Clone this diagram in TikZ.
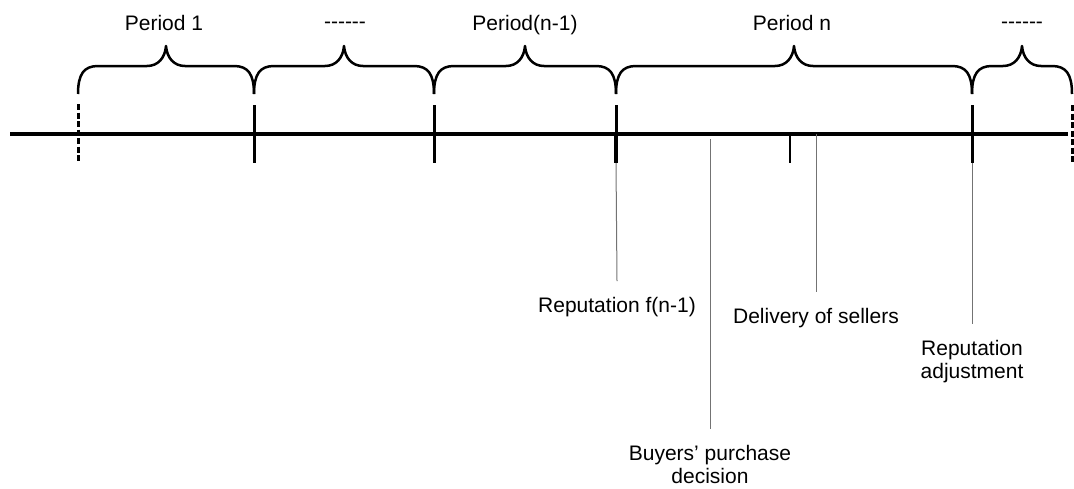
\documentclass[tikz,border=0pt]{standalone}
\usepackage{fontspec}
\setmainfont{Liberation Sans}
\begin{document}
\begin{tikzpicture}[x=1pt,y=-1pt,
  every node/.style={font=\fontsize{21}{23}\selectfont, inner sep=0pt},
  lab/.style={align=center, anchor=north, outer ysep=16pt},
  axis/.style={line width=3.6pt},
  tickmark/.style={line width=3pt},
  dtick/.style={line width=3pt, dash pattern=on 6pt off 2.5pt},
  bracepath/.style={line width=2.5pt, line join=round},
  guide/.style={line width=1pt, draw=black!55},
  minor/.style={line width=1.6pt}]
\useasboundingbox (0,0) rectangle (1074,488);
% axis
\coordinate (axL) at (10,134);
\coordinate (axR) at (1068,134);
\draw[axis] (axL) -- (axR);
% ticks
\coordinate (d1t) at (78,104);  \coordinate (d1b) at (78,163);
\coordinate (t1t) at (254,105); \coordinate (t1b) at (254,163);
\coordinate (t2t) at (434,105); \coordinate (t2b) at (434,163);
\coordinate (t3t) at (616,105); \coordinate (t3b) at (616,163);
\coordinate (t4t) at (972,105); \coordinate (t4b) at (972,163);
\coordinate (d2t) at (1072,105); \coordinate (d2b) at (1072,163);
\draw[dtick] (d1t) -- (d1b);
\draw[dtick] (d2t) -- (d2b);
\draw[tickmark] (t1t) -- (t1b);
\draw[tickmark] (t2t) -- (t2b);
\draw[tickmark] (t3t) -- (t3b);
\draw[line width=4pt] (616,134) -- (t3b);
\draw[tickmark] (t4t) -- (t4b);
% small tick
\coordinate (s1t) at (790,134); \coordinate (s1b) at (790,163);
\draw[minor] (s1t) -- (s1b);
% braces
\foreach \a/\b in {78/254, 254/434, 434/616, 616/972, 972/1072}{
  \pgfmathsetmacro\m{(\a+\b)/2}
  \draw[bracepath] (\a,94) .. controls (\a,74) and (\a+6,66) .. (\a+20,66)
    -- (\m-19,66) .. controls (\m-8,66) and (\m-1,58) .. (\m,46)
    .. controls (\m+1,58) and (\m+8,66) .. (\m+19,66)
    -- (\b-20,66) .. controls (\b-6,66) and (\b,74) .. (\b,94);
}
% period labels
\node[anchor=base] (p1) at (164,30) {Period 1};
\node[anchor=base] (dots1) at (345,28) {{-}{-}{-}{-}{-}{-}};
\node[anchor=base] (pn1) at (525,30) {Period(n-1)};
\node[anchor=base] (pn) at (792,30) {Period n};
\node[anchor=base] (dots2) at (1022,28) {{-}{-}{-}{-}{-}{-}};
% event labels
\node[lab] (rep) at (617,281) {Reputation f(n-1)};
\node[lab] (buy) at (710,429) {Buyers’ purchase\\decision};
\node[lab] (del) at (816,292) {Delivery of sellers};
\node[lab] (adj) at (972,324) {Reputation\\adjustment};
% guides
\coordinate (g2) at (710,139);
\coordinate (g3) at (816,134);
\draw[guide] (t3b) -- (rep.north);
\draw[guide] (g2) -- (buy.north);
\draw[guide] (g3) -- (del.north);
\draw[guide] (t4b) -- (adj.north);
\end{tikzpicture}
\end{document}
